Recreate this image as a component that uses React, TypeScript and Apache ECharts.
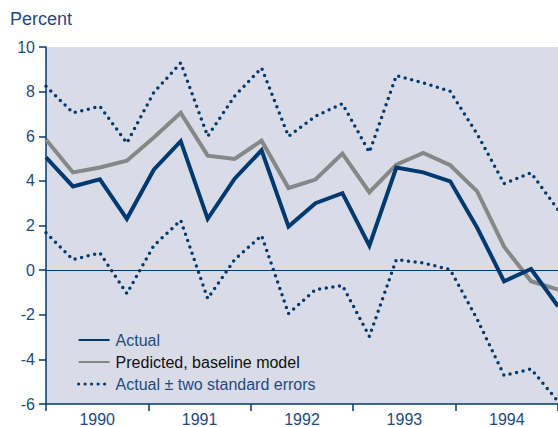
import React, { useEffect, useRef } from "react";
import * as echarts from "echarts";

const years = ["1990", "1991", "1992", "1993", "1994"];
const quarterIndex = [0, 1, 2, 3, 4, 5, 6, 7, 8, 9, 10, 11, 12, 13, 14, 15, 16, 17, 18, 19];
const actual = [5.05, 3.75, 4.07, 2.3, 4.5, 5.78, 2.3, 4.1, 5.37, 1.95, 3.0, 3.45, 1.1, 4.6, 4.38, 3.98, 1.9, -0.5, 0.05, -1.62];
const predicted = [5.85, 4.38, 4.6, 4.9, 5.94, 7.05, 5.13, 4.98, 5.8, 3.68, 4.06, 5.22, 3.49, 4.73, 5.25, 4.7, 3.53, 1.05, -0.5, -0.87];
const upperBand = [8.24, 7.05, 7.34, 5.7, 7.96, 9.29, 6.0, 7.8, 9.06, 6.0, 6.9, 7.46, 5.28, 8.72, 8.39, 8.01, 6.1, 3.88, 4.36, 2.71];
const lowerBand = [1.67, 0.47, 0.77, -1.05, 1.1, 2.23, -1.28, 0.47, 1.55, -1.95, -0.87, -0.69, -2.97, 0.47, 0.32, 0.02, -2.2, -4.72, -4.43, -5.88];

const NAVY = "#003a70";
const TEXT = "#1d4b7e";
const GRAY = "#878787";
const FONT = "'Liberation Sans', Arial, Helvetica, sans-serif";

const pairs = (vals: number[]) => vals.map((v, i) => [quarterIndex[i], v]);

export default function App() {
  const ref = useRef<HTMLDivElement>(null);
  useEffect(() => {
    document.body.style.margin = "0";
    const chart = echarts.init(ref.current!, undefined, { renderer: "svg" });
    const dotted = { color: NAVY, width: 3.5, type: [0, 6.7] as any, cap: "round" as const };
    chart.setOption({
      animation: false,
      textStyle: { fontFamily: FONT },
      title: {
        text: "Percent",
        left: 5,
        top: 5,
        textStyle: { fontFamily: FONT, fontSize: 18, fontWeight: "normal", color: TEXT },
      },
      grid: {
        left: 46,
        top: 47,
        right: 0,
        bottom: 23,
        show: true,
        backgroundColor: "#d9dce6",
        borderWidth: 0,
        outerBoundsMode: "none",
        containLabel: false,
      },
      legend: {
        orient: "vertical",
        left: 72,
        top: 327,
        itemWidth: 31,
        itemHeight: 14,
        itemGap: 6,
        itemStyle: { opacity: 0 },
        textStyle: { fontFamily: FONT, fontSize: 16, color: TEXT, padding: [0, 0, 0, 1] },
        data: [
          { name: "Actual", textStyle: { color: TEXT } },
          { name: "Predicted, baseline model", textStyle: { color: "#111111" } },
          {
            name: "Actual \u00b1 two standard errors",
            textStyle: { color: TEXT },
            lineStyle: { color: NAVY, width: 3.2, type: [0, 6.5], cap: "round" },
          },
        ],
      },
      xAxis: [
        {
          type: "value",
          min: 0,
          max: 19,
          show: false,
        },
        {
          type: "category",
          data: years,
          boundaryGap: true,
          position: "bottom",
          axisLine: { show: true, lineStyle: { color: NAVY, width: 1.5 } },
          axisTick: { show: true, length: 7, lineStyle: { color: NAVY, width: 1.5 } },
          axisLabel: { color: TEXT, fontSize: 16, fontFamily: FONT, margin: 7 },
          splitLine: { show: false },
        },
      ],
      yAxis: {
        type: "value",
        min: -6,
        max: 10,
        interval: 2,
        axisLine: { show: true, lineStyle: { color: NAVY, width: 1.5 } },
        axisTick: { show: true, length: 7, lineStyle: { color: NAVY, width: 1.5 } },
        axisLabel: { color: TEXT, fontSize: 16, fontFamily: FONT, margin: 11 },
        splitLine: { show: false },
      },
      series: [
        {
          name: "Actual \u00b1 two standard errors",
          type: "line",
          xAxisIndex: 0,
          data: pairs(upperBand),
          symbol: "none",
          lineStyle: dotted,
          itemStyle: { color: NAVY },
          z: 3,
        },
        {
          name: "Actual \u00b1 two standard errors",
          type: "line",
          xAxisIndex: 0,
          data: pairs(lowerBand),
          symbol: "none",
          lineStyle: dotted,
          itemStyle: { color: NAVY },
          z: 3,
          markLine: {
            silent: true,
            symbol: "none",
            label: { show: false },
            lineStyle: { color: NAVY, width: 1.2, type: "solid" },
            data: [{ yAxis: 0 }],
          },
        },
        {
          name: "Predicted, baseline model",
          type: "line",
          xAxisIndex: 0,
          data: pairs(predicted),
          symbol: "none",
          lineStyle: { color: GRAY, width: 4, join: "miter" },
          itemStyle: { color: GRAY },
          z: 4,
        },
        {
          name: "Actual",
          type: "line",
          xAxisIndex: 0,
          data: pairs(actual),
          symbol: "none",
          lineStyle: { color: NAVY, width: 4, join: "miter" },
          itemStyle: { color: NAVY },
          z: 5,
        },
      ],
    });
    return () => chart.dispose();
  }, []);
  return <div ref={ref} style={{ width: 558, height: 427 }} />;
}
